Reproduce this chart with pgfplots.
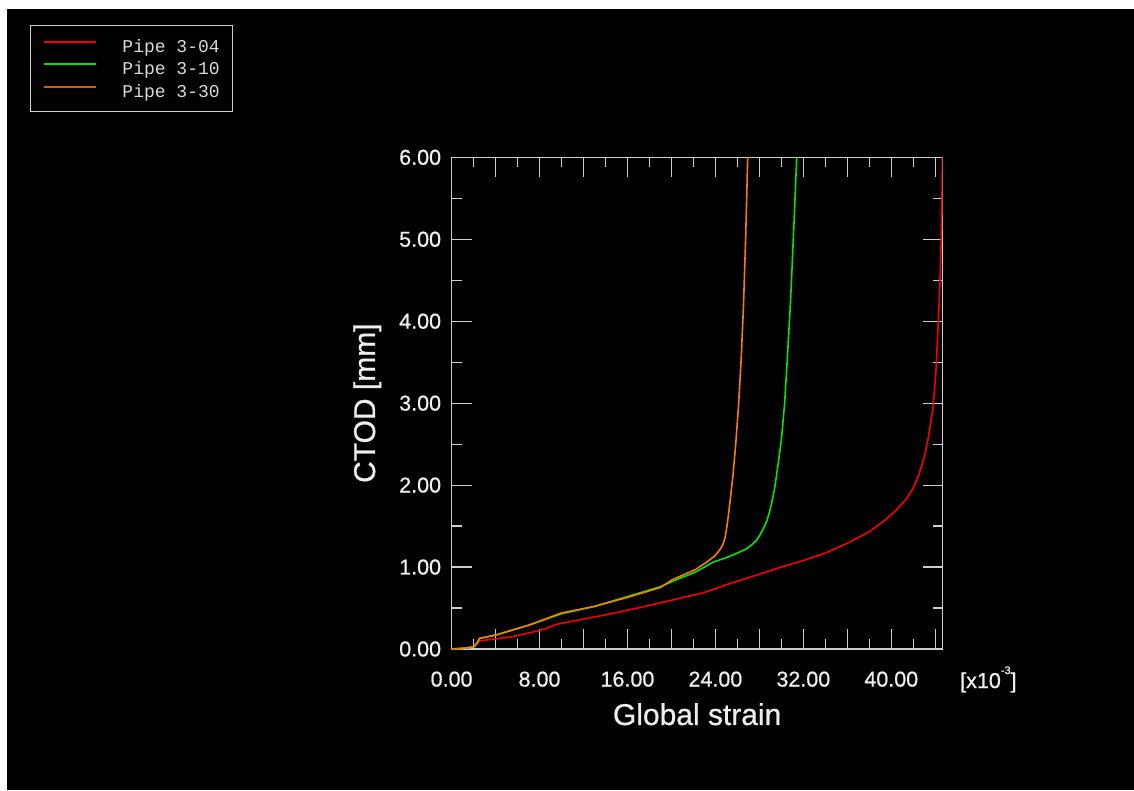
\documentclass[border=0pt]{standalone}
\usepackage{pgfplots}
\pgfplotsset{compat=1.18}
\usepackage{fontspec}
\setmainfont{Liberation Sans}[FakeBold=0.7]
\newfontfamily\legendmono{Liberation Mono}

\definecolor{axisgray}{RGB}{205,205,205}
\definecolor{labelwhite}{RGB}{238,238,238}
\definecolor{pipeA}{RGB}{245,0,0}
\definecolor{pipeB}{RGB}{0,230,0}
\definecolor{pipeC}{RGB}{245,125,0}
\definecolor{pipeCdark}{RGB}{205,95,10}

% CTOD vs. global strain (x10^-3) for three pipe tests
\pgfplotstableread{
x      y
0      0
1      0.008
2      0.025
2.3    0.06
2.55   0.10
3.5    0.115
5.5    0.15
7.5    0.21
8.5    0.245
9.5    0.30
12     0.365
14.5   0.43
17.6   0.52
20.8   0.62
23     0.69
24.2   0.745
25     0.785
27     0.87
30     1.00
32     1.08
34     1.17
36     1.29
38     1.43
39.5   1.58
40.5   1.70
41.3   1.82
41.9   1.94
42.5   2.12
43.0   2.34
43.4   2.60
43.8   2.95
44.05  3.35
44.2   3.77
44.35  4.20
44.45  4.58
44.55  5.00
44.6   5.39
44.66  6.00
}\pipeAtab

\pgfplotstableread{
x      y
0      0
1      0.008
2      0.025
2.3    0.07
2.55   0.13
4      0.17
7      0.29
10     0.43
13     0.52
16     0.64
19     0.76
20     0.82
21     0.875
22.2   0.94
23.8   1.06
25.0   1.115
25.9   1.165
26.8   1.22
27.3   1.27
27.7   1.32
28.05  1.39
28.4   1.48
28.67  1.56
28.9   1.66
29.12  1.78
29.4   1.97
29.7   2.25
30.0   2.55
30.3   3.00
30.55  3.56
30.8   4.15
30.95  4.58
31.15  5.20
31.4   6.00
}\pipeBtab

\pgfplotstableread{
x      y
0      0
1      0.008
2      0.025
2.3    0.07
2.55   0.13
4      0.17
7      0.29
10     0.44
13     0.52
16     0.63
19     0.75
20     0.84
21     0.90
22.2   0.97
23.2   1.06
23.9   1.13
24.4   1.21
24.7   1.28
24.9   1.37
25.05  1.50
25.2   1.65
25.4   1.88
25.6   2.12
25.85  2.50
26.1   2.96
26.35  3.55
26.55  4.17
26.75  5.00
26.94  6.00
}\pipeCtab

\begin{document}
\begin{tikzpicture}[x=1pt,y=1pt]
\useasboundingbox (0,0) rectangle (1134,790);
\fill[white] (0,0) rectangle (1134,790);
\fill[black] (7,0) rectangle (1134,781);
\begin{axis}[
  at={(451.6pt,141pt)}, anchor=south west,
  scale only axis, width=491.1pt, height=491.7pt,
  xmin=0, xmax=44.68, ymin=0, ymax=6,
  axis line style={axisgray, line width=1.2pt},
  tick align=inside,
  major tick length=20pt, minor tick length=10pt,
  every tick/.style={axisgray, line width=1.2pt},
  xtick={0,4,...,44},
  xticklabels={0.00,,8.00,,16.00,,24.00,,32.00,,40.00,},
  minor x tick num=1,
  ytick={0,1,...,6},
  yticklabels={0.00,1.00,2.00,3.00,4.00,5.00,6.00},
  minor y tick num=1,
  /pgf/number format/assume math mode=true,
  ticklabel style={text=labelwhite, font=\fontsize{21.5}{25}\selectfont},
  xticklabel style={yshift=-19pt},
  yticklabel style={xshift=-7pt},
  xlabel={Global strain},
  xlabel style={at={(axis description cs:0.5,-0.1545)}, anchor=base,
                text=labelwhite, font=\fontsize{30}{34}\selectfont},
  ylabel={CTOD [mm]},
  ylabel style={at={(axis description cs:-0.156,0.5)}, anchor=base,
                text=labelwhite, font=\fontsize{30}{34}\selectfont},
  legend style={at={(axis description cs:-0.8585,1.2691)}, anchor=north west,
                fill=black, draw=axisgray, line width=1pt,
                text=white!85!black, font=\legendmono\fontsize{18}{20}\selectfont,
                inner xsep=13pt, inner ysep=12.5pt,
                row sep=6.5pt, column sep=25pt,
                nodes={inner sep=0pt, text height=14.5pt, text depth=1.5pt}},
  legend cell align=left,
  legend image code/.code={\draw[#1] (0pt,4pt) -- (52pt,4pt);},
]
\addlegendimage{pipeA, line width=2pt}
\addlegendentry{Pipe 3-04}
\addlegendimage{pipeB, line width=2pt}
\addlegendentry{Pipe 3-10}
\addlegendimage{pipeCdark, line width=2pt}
\addlegendentry{Pipe 3-30}
\addplot[pipeA, line width=1.6pt, forget plot] table {\pipeAtab};
\addplot[pipeB, line width=1.6pt, forget plot] table {\pipeBtab};
\addplot[pipeC, line width=1.6pt, forget plot] table {\pipeCtab};
\end{axis}
\node[anchor=base west, text=labelwhite, font=\fontsize{21.5}{25}\selectfont, inner sep=0pt]
  at (960,102) {[x10\raisebox{14pt}{\fontsize{11}{11}\selectfont -3}]};
\end{tikzpicture}
\end{document}
